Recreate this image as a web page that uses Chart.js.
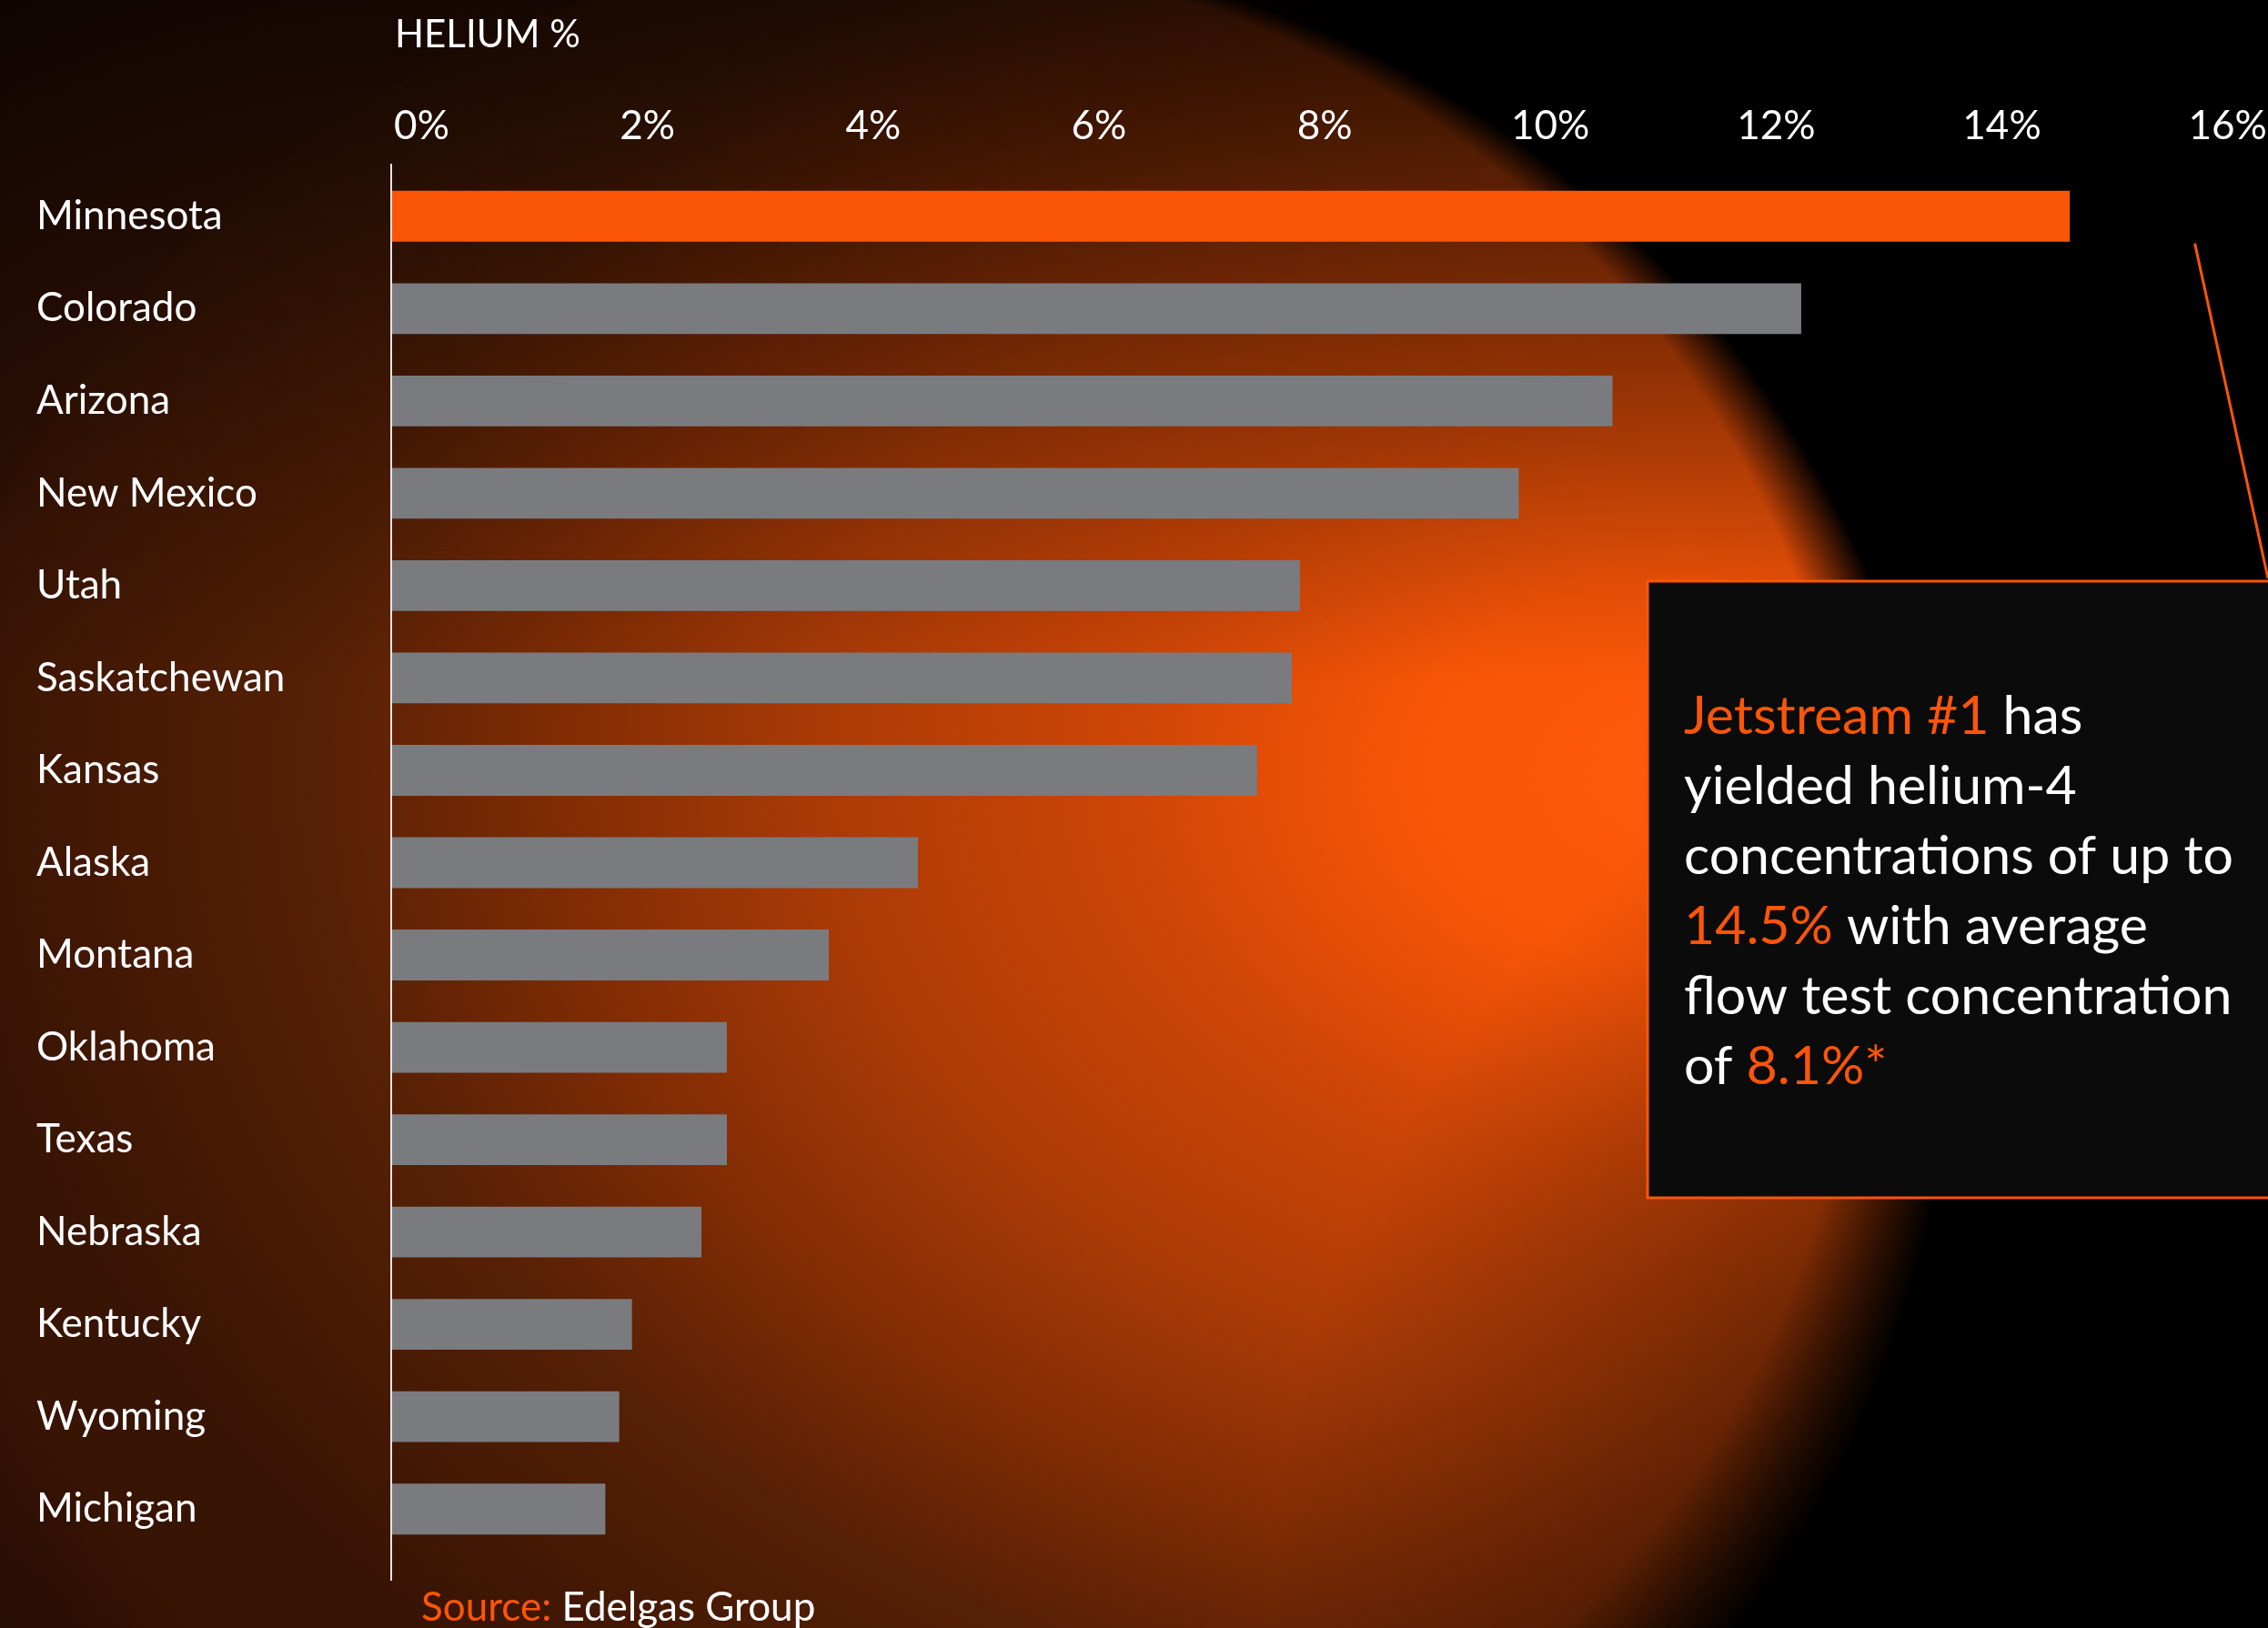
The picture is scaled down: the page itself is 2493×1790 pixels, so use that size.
<!DOCTYPE html>
<html>
<head>
<meta charset="utf-8">
<script src="https://cdn.jsdelivr.net/npm/chart.js@4.4.0/dist/chart.umd.min.js"></script>
<style>
html, body { margin: 0; padding: 0; background: #000; }
#wrap { width: 2493px; height: 1790px; position: relative; }
</style>
</head>
<body>
<div id="wrap"><canvas id="helium-chart"></canvas></div>
<script>
const states = ['Minnesota', 'Colorado', 'Arizona', 'New Mexico', 'Utah', 'Saskatchewan', 'Kansas',
    'Alaska', 'Montana', 'Oklahoma', 'Texas', 'Nebraska', 'Kentucky', 'Wyoming', 'Michigan'];
const heliumPct = [14.5, 12.18, 10.55, 9.74, 7.85, 7.78, 7.48, 4.55, 3.78, 2.9, 2.9, 2.68, 2.08, 1.97, 1.85];
const tickValues = [0, 2, 4, 6, 8, 10, 12, 14, 16];
const highlight = 'Minnesota';

const ORANGE = '#fb5508';
const GREY = '#7a7b7f';
const FONT = 'Lato, "Open Sans", sans-serif';

// text of the call-out box, split in coloured runs
const boxLines = [
    [['Jetstream #1', ORANGE], [' has', '#fff']],
    [['yielded helium-4', '#fff']],
    [['concentrations of up to', '#fff']],
    [['14.5%', ORANGE], [' with average', '#fff']],
    [['flow test concentration', '#fff']],
    [['of ', '#fff'], ['8.1%*', ORANGE]]
];

// pick a font size so a sample string gets the width it has in the picture
const measureCtx = document.createElement('canvas').getContext('2d');
const fitSize = (text, width) => {
    measureCtx.font = '100px ' + FONT;
    return Math.round(100 * width / measureCtx.measureText(text).width);
};
const labelSize = fitSize('Saskatchewan', 274);
const tickSize = Math.round(fitSize('10%', 81) * 1.08);
const titleSize = fitSize('HELIUM %', 204);
const sourceSize = fitSize('Source: Edelgas Group', 436);
const boxSize = fitSize('concentrations of up to', 601);

// the % labels in the picture are spread a little tighter than the bars,
// so they sit on their own (label only) axis
const labelAxisMin = -0.27;
const labelAxisMax = 16.14;

// glowing sphere behind the plot
const glowCanvas = document.createElement('canvas');
const backgroundPlugin = {
    id: 'background',
    beforeDraw(chart) {
        const ctx = chart.ctx;
        const w = chart.width, h = chart.height;
        ctx.save();
        ctx.fillStyle = '#000';
        ctx.fillRect(0, 0, w, h);
        const amb = ctx.createRadialGradient(500, 1150, 0, 500, 1150, 1500);
        amb.addColorStop(0, '#421806');
        amb.addColorStop(0.5, '#2c0f04');
        amb.addColorStop(0.8, '#120602');
        amb.addColorStop(1, '#000');
        ctx.fillStyle = amb;
        ctx.fillRect(0, 0, w, h);

        glowCanvas.width = w;
        glowCanvas.height = h;
        const g = glowCanvas.getContext('2d');
        g.save();
        g.translate(1850, 850);
        g.scale(1, 1 / 1.4);
        const hot = g.createRadialGradient(0, 0, 0, 0, 0, 1900);
        hot.addColorStop(0, '#ff5a0a');
        hot.addColorStop(300 / 1900, '#f85507');
        hot.addColorStop(600 / 1900, '#cf4606');
        hot.addColorStop(960 / 1900, '#a93a06');
        hot.addColorStop(1250 / 1900, '#7e2b04');
        hot.addColorStop(1500 / 1900, '#562005');
        hot.addColorStop(1, '#381404');
        g.fillStyle = hot;
        g.fillRect(-3000, -3000, 6000, 6000);
        g.restore();

        g.globalCompositeOperation = 'source-atop';
        const top = g.createLinearGradient(0, 0, 0, 750);
        top.addColorStop(0, 'rgba(0,0,0,0.65)');
        top.addColorStop(1, 'rgba(0,0,0,0)');
        g.fillStyle = top;
        g.fillRect(0, 0, w, 750);
        const corner = g.createRadialGradient(w, h, 0, w, h, 1100);
        corner.addColorStop(0, 'rgba(0,0,0,0.85)');
        corner.addColorStop(1, 'rgba(0,0,0,0)');
        g.fillStyle = corner;
        g.fillRect(0, 0, w, h);

        g.globalCompositeOperation = 'destination-in';
        const mask = g.createRadialGradient(975, 1020, 1070, 1000, 1090, 1150);
        mask.addColorStop(0, 'rgba(0,0,0,1)');
        mask.addColorStop(1, 'rgba(0,0,0,0)');
        g.fillStyle = mask;
        g.fillRect(0, 0, w, h);
        g.globalCompositeOperation = 'source-over';

        ctx.drawImage(glowCanvas, 0, 0);
        ctx.restore();
    },
    afterDatasetsDraw(chart) {
        const ctx = chart.ctx;
        const area = chart.chartArea;
        const x0 = chart.scales.x.getPixelForValue(0);
        ctx.save();
        ctx.strokeStyle = '#ece4e0';
        ctx.lineWidth = 2;
        ctx.beginPath();
        ctx.moveTo(x0, area.top - 7);
        ctx.lineTo(x0, area.bottom + 28);
        ctx.stroke();
        ctx.restore();
    },
    afterDraw(chart) {
        const ctx = chart.ctx;
        const w = chart.width;
        ctx.save();
        ctx.textBaseline = 'alphabetic';
        ctx.textAlign = 'left';

        // axis title
        ctx.fillStyle = '#fff';
        ctx.font = titleSize + 'px ' + FONT;
        ctx.fillText('HELIUM %', 434, 52);

        // source line
        ctx.font = sourceSize + 'px ' + FONT;
        ctx.fillStyle = ORANGE;
        ctx.fillText('Source:', 463, 1782);
        const sw = ctx.measureText('Source: ').width;
        ctx.fillStyle = '#fff';
        ctx.fillText('Edelgas Group', 463 + sw, 1782);

        // call-out line from the top bar to the box
        const bar = chart.getDatasetMeta(0).data[0];
        ctx.strokeStyle = ORANGE;
        ctx.lineWidth = 3;
        ctx.beginPath();
        ctx.moveTo(chart.scales.x.getPixelForValue(15.58), bar.y + bar.height / 2 + 2);
        ctx.lineTo(w, 636);
        ctx.stroke();

        // call-out box
        ctx.fillStyle = '#0b0b0b';
        ctx.fillRect(1811, 639, w - 1811 + 10, 1317 - 639);
        ctx.strokeStyle = ORANGE;
        ctx.lineWidth = 3;
        ctx.strokeRect(1811, 639, w - 1811 + 10, 1317 - 639);

        ctx.font = boxSize + 'px ' + FONT;
        boxLines.forEach((runs, i) => {
            let x = 1851;
            const y = 807 + i * 77;
            runs.forEach(([text, color]) => {
                ctx.fillStyle = color;
                ctx.fillText(text, x, y);
                x += ctx.measureText(text).width;
            });
        });
        ctx.restore();
    }
};

new Chart(document.getElementById('helium-chart'), {
    type: 'bar',
    data: {
        labels: states,
        datasets: [{
            data: heliumPct,
            backgroundColor: states.map(s => s === highlight ? ORANGE : GREY),
            borderWidth: 0,
            barPercentage: 0.55,
            categoryPercentage: 1.0
        }]
    },
    options: {
        indexAxis: 'y',
        responsive: true,
        maintainAspectRatio: false,
        devicePixelRatio: 1,
        animation: false,
        layout: { padding: { left: 40, right: 27, top: 0, bottom: 80 } },
        scales: {
            x: {
                display: false,
                min: 0,
                max: 16
            },
            xLabels: {
                type: 'linear',
                position: 'top',
                min: labelAxisMin,
                max: labelAxisMax,
                afterBuildTicks: scale => { scale.ticks = tickValues.map(v => ({ value: v })); },
                afterFit: scale => {
                    scale.height = 187;
                    scale.paddingLeft = 0;
                    scale.paddingRight = 0;
                },
                grid: { display: false, drawTicks: false },
                border: { display: false },
                ticks: {
                    color: '#fff',
                    padding: 22,
                    maxRotation: 0,
                    font: { family: FONT, size: tickSize },
                    callback: v => v + '%'
                }
            },
            y: {
                afterFit: scale => { scale.width = 390; },
                grid: { display: false, drawTicks: false },
                border: { display: false },
                ticks: {
                    color: '#fff',
                    crossAlign: 'far',
                    font: { family: FONT, size: labelSize }
                }
            }
        },
        plugins: {
            legend: { display: false },
            tooltip: { enabled: false }
        }
    },
    plugins: [backgroundPlugin]
});
</script>
</body>
</html>
